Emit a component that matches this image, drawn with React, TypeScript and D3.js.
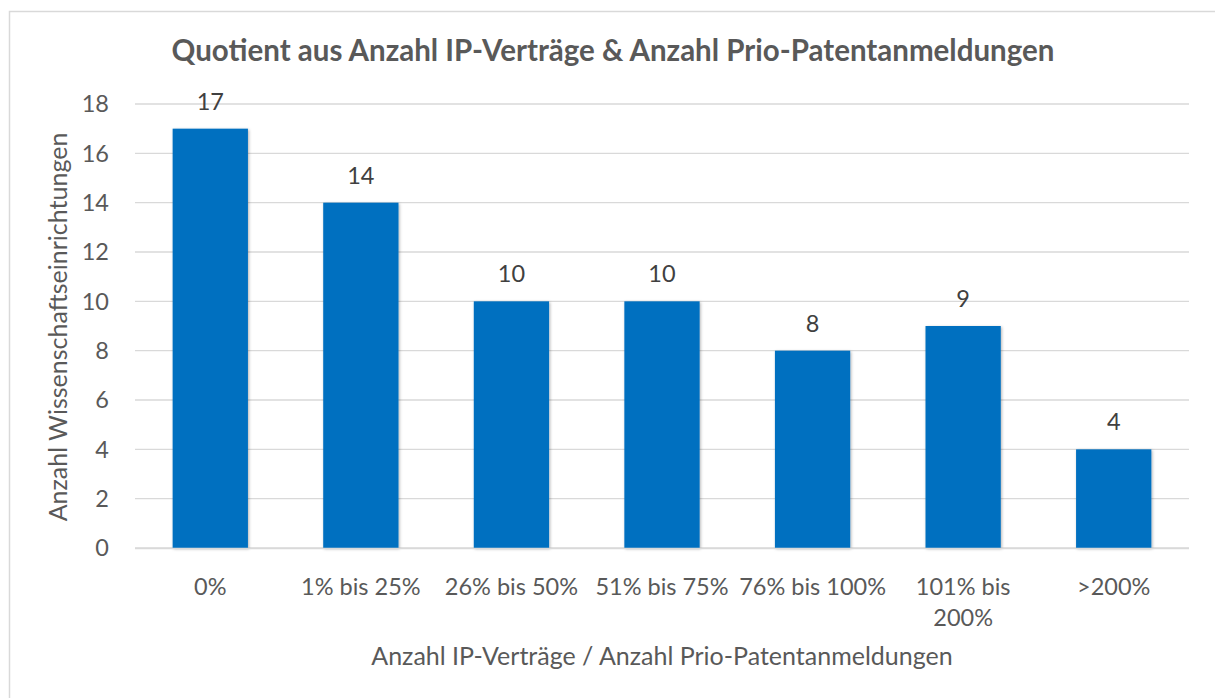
import { useRef, useEffect } from "react";
import * as d3 from "d3";

const categories = ["0%", "1% bis 25%", "26% bis 50%", "51% bis 75%", "76% bis 100%", "101% bis 200%", ">200%"];
const categoryLines = [["0%"], ["1% bis 25%"], ["26% bis 50%"], ["51% bis 75%"], ["76% bis 100%"], ["101% bis", "200%"], [">200%"]];
const values = [17, 14, 10, 10, 8, 9, 4];
const yTicks = [0, 2, 4, 6, 8, 10, 12, 14, 16, 18];

const title = "Quotient aus Anzahl IP-Verträge & Anzahl Prio-Patentanmeldungen";
const xTitle = "Anzahl IP-Verträge / Anzahl Prio-Patentanmeldungen";
const yTitle = "Anzahl Wissenschaftseinrichtungen";

export default function App() {
  const svgRef = useRef<SVGSVGElement>(null);

  useEffect(() => {
    const W = 1215, H = 698;
    const margin = { top: 104, right: 26, bottom: 150, left: 135 };
    const width = W - margin.left - margin.right;
    const height = H - margin.top - margin.bottom;
    const font = "Lato, 'Open Sans', sans-serif";
    const textColor = "#595959";
    const fs = 23.5;

    const svg = d3.select(svgRef.current);
    svg.selectAll("*").remove();
    svg.attr("width", W).attr("height", H);

    // shadow for the bars
    const defs = svg.append("defs");
    const f = defs.append("filter").attr("id", "sh").attr("x", "-10%").attr("y", "-10%").attr("width", "130%").attr("height", "130%");
    f.append("feDropShadow").attr("dx", 1).attr("dy", 1).attr("stdDeviation", 1.5).attr("flood-color", "#000").attr("flood-opacity", 0.3);

    svg.append("rect").attr("width", W).attr("height", H).attr("fill", "#fff");
    svg.append("rect")
      .attr("x", 9.5).attr("y", 11.5).attr("width", W).attr("height", H)
      .attr("fill", "none").attr("stroke", "#d9d9d9").attr("stroke-width", 1.5);

    const g = svg.append("g").attr("transform", `translate(${margin.left},${margin.top})`);

    const x = d3.scaleBand().domain(categories).range([0, width]).paddingInner(0.5).paddingOuter(0.25);
    const y = d3.scaleLinear().domain([0, 18]).range([height, 0]);

    // Grid lines
    g.append("g")
      .selectAll("line")
      .data(yTicks)
      .join("line")
      .attr("x1", 0).attr("x2", width)
      .attr("y1", (d) => y(d)).attr("y2", (d) => y(d))
      .attr("stroke", "#d9d9d9")
      .attr("stroke-width", 1.3);

    // Y tick labels
    g.append("g")
      .selectAll("text")
      .data(yTicks)
      .join("text")
      .attr("x", -26).attr("y", (d) => y(d))
      .attr("dy", "0.36em")
      .attr("text-anchor", "end")
      .attr("fill", textColor).attr("font-family", font).attr("font-size", fs)
      .text((d) => d);

    // Bars
    g.append("g")
      .selectAll("rect")
      .data(values)
      .join("rect")
      .attr("x", (_, i) => x(categories[i])!)
      .attr("y", (d) => y(d))
      .attr("width", x.bandwidth())
      .attr("height", (d) => height - y(d))
      .attr("fill", "#0070c0")
      .attr("filter", "url(#sh)");

    // axis line on top of bars
    g.append("line")
      .attr("x1", 0).attr("x2", width).attr("y1", height + 0.5).attr("y2", height + 0.5)
      .attr("stroke", "#d9d9d9").attr("stroke-width", 1.5);

    // Value labels
    g.append("g")
      .selectAll("text")
      .data(values)
      .join("text")
      .attr("x", (_, i) => x(categories[i])! + x.bandwidth() / 2)
      .attr("y", (d) => y(d) - 19)
      .attr("text-anchor", "middle")
      .attr("fill", "#404040").attr("font-family", font).attr("font-size", fs)
      .text((d) => d);

    // Category labels
    const cat = g.append("g")
      .selectAll("text")
      .data(categoryLines)
      .join("text")
      .attr("x", (_, i) => x(categories[i])! + x.bandwidth() / 2)
      .attr("y", height + 47)
      .attr("text-anchor", "middle")
      .attr("fill", textColor).attr("font-family", font).attr("font-size", fs);
    cat.selectAll("tspan")
      .data((d) => d)
      .join("tspan")
      .attr("x", function () { return (this.parentNode as SVGTextElement).getAttribute("x"); })
      .attr("dy", (_, i) => (i === 0 ? 0 : 31))
      .text((d) => d);

    // Axis titles
    svg.append("text")
      .attr("x", margin.left + width / 2).attr("y", 665)
      .attr("text-anchor", "middle")
      .attr("fill", textColor).attr("font-family", font).attr("font-size", 25)
      .text(xTitle);

    svg.append("text")
      .attr("transform", `translate(67, ${margin.top + height / 2 + 1}) rotate(-90)`)
      .attr("text-anchor", "middle")
      .attr("fill", textColor).attr("font-family", font).attr("font-size", 25)
      .text(yTitle);

    // Title
    svg.append("text")
      .attr("x", 613).attr("y", 61)
      .attr("text-anchor", "middle")
      .attr("fill", textColor).attr("font-family", font).attr("font-size", 29.5).attr("font-weight", "bold")
      .text(title);
  }, []);

  return <svg ref={svgRef} style={{ position: "absolute", left: 0, top: 0 }} />;
}
